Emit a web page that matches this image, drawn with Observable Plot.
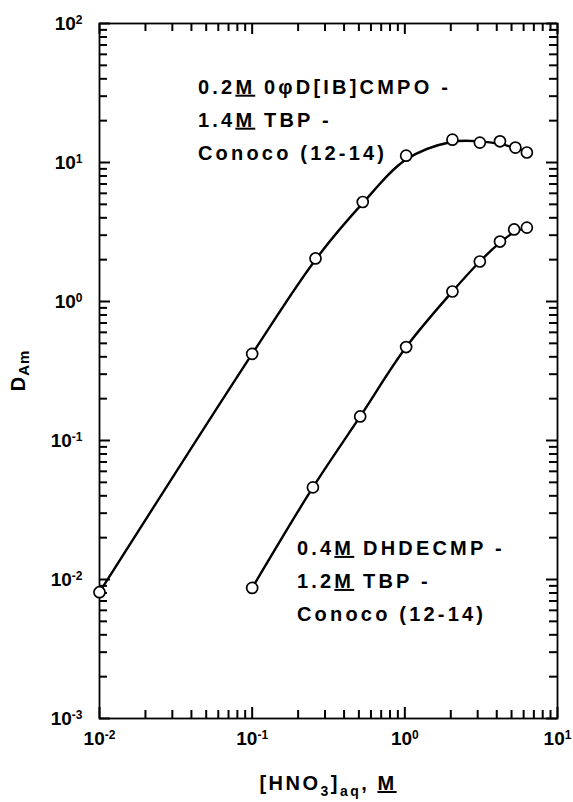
<!DOCTYPE html>
<html><head><meta charset="utf-8">
<script src="https://cdn.jsdelivr.net/npm/d3@7"></script>
<script src="https://cdn.jsdelivr.net/npm/@observablehq/plot@0.6"></script>
<style>
  html,body{margin:0;padding:0;background:#fff}
  svg{display:block}
  text{white-space:pre}
</style>
</head><body><div id="chart"></div>
<script>
// ---------- data ----------
// Upper series: 0.2M OφD[IB]CMPO - 1.4M TBP - Conoco (12-14)
const hno3Upper = [0.01, 0.1, 0.26, 0.53, 1.02, 2.05, 3.1, 4.2, 5.3, 6.3];
const dAmUpper  = [0.0081, 0.42, 2.04, 5.2, 11.2, 14.6, 13.9, 14.2, 12.8, 11.8];
// Lower series: 0.4M DHDECMP - 1.2M TBP - Conoco (12-14)
const hno3Lower = [0.1, 0.25, 0.51, 1.02, 2.05, 3.1, 4.2, 5.2, 6.3];
const dAmLower  = [0.0087, 0.046, 0.149, 0.47, 1.18, 1.94, 2.7, 3.3, 3.4];
// Smooth curves drawn through the points
const fitUpperX = [0.01, 0.1, 0.26, 0.53, 1.02, 2.05, 3.1, 4.2, 5.3, 6.3];
const fitUpperY = [0.0081, 0.42, 2.0, 5.1, 10.5, 14.1, 14.2, 13.6, 12.7, 11.9];
const fitLowerX = [0.1, 0.25, 0.51, 1.02, 2.05, 3.1, 4.2, 5.2, 6.3];
const fitLowerY = [0.0087, 0.046, 0.149, 0.47, 1.18, 1.94, 2.65, 3.15, 3.4];
// Axis decades (tick labels)
const xDecades = [0.01, 0.1, 1, 10];
const yDecades = [0.001, 0.01, 0.1, 1, 10, 100];
// Text
const upperLabel = [[["0.2",0],["M",1],[" 0\u03C6D[IB]CMPO -",0]], [["1.4",0],["M",1],[" TBP -",0]], [["Conoco (12-14)",0]]];
const lowerLabel = [[["0.4",0],["M",1],[" DHDECMP -",0]], [["1.2",0],["M",1],[" TBP -",0]], [["Conoco (12-14)",0]]];

// ---------- layout ----------
const W = 573, H = 802;
const mL = 99, mR = 16, mT = 23, mB = 84;
const innerW = W - mL - mR, innerH = H - mT - mB;
const FONT = "'Liberation Sans', Arial, Helvetica, sans-serif";

const minorX = xDecades.slice(0, -1).flatMap(d => d3.range(2, 10).map(k => d * k));
const minorY = yDecades.slice(0, -1).flatMap(d => d3.range(2, 10).map(k => d * k));
const upper = hno3Upper.map((x, i) => ({x, y: dAmUpper[i]}));
const lower = hno3Lower.map((x, i) => ({x, y: dAmLower[i]}));
const fitUpper = fitUpperX.map((x, i) => ({x, y: fitUpperY[i]}));
const fitLower = fitLowerX.map((x, i) => ({x, y: fitLowerY[i]}));
const fmt = d => "10^" + Math.round(Math.log10(d));

// inward ticks on all four sides of the frame
const tickMarks = (xt, yt, len) => [
  Plot.tickX(xt, {x: d => d, insetTop: innerH - len, stroke: "black", strokeWidth: 2}),
  Plot.tickX(xt, {x: d => d, insetBottom: innerH - len, stroke: "black", strokeWidth: 2}),
  Plot.tickY(yt, {y: d => d, insetRight: innerW - len, stroke: "black", strokeWidth: 2}),
  Plot.tickY(yt, {y: d => d, insetLeft: innerW - len, stroke: "black", strokeWidth: 2})
];
const txt = {fontFamily: FONT, fontWeight: "bold", fontSize: 19, fill: "black"};

const plot = Plot.plot({
  width: W, height: H,
  marginLeft: mL, marginRight: mR, marginTop: mT, marginBottom: mB,
  x: {type: "log", domain: [0.01, 10], label: null},
  y: {type: "log", domain: [0.001, 100], label: null},
  marks: [
    Plot.frame({stroke: "black", strokeWidth: 1.8}),
    ...tickMarks(minorX, minorY, 8),
    ...tickMarks(xDecades, yDecades, 11),
    Plot.axisX({anchor: "bottom", ticks: xDecades, tickSize: 0, tickPadding: 13, tickFormat: fmt, label: null, ...txt}),
    Plot.axisY({anchor: "left", ticks: yDecades, tickSize: 0, tickPadding: 17, tickFormat: fmt, label: null, ...txt}),
    Plot.line(fitUpper, {x: "x", y: "y", curve: "catmull-rom", stroke: "black", strokeWidth: 2.4}),
    Plot.line(fitLower, {x: "x", y: "y", curve: "catmull-rom", stroke: "black", strokeWidth: 2.4}),
    Plot.dot(upper, {x: "x", y: "y", r: 5.5, fill: "white", stroke: "black", strokeWidth: 1.7}),
    Plot.dot(lower, {x: "x", y: "y", r: 5.5, fill: "white", stroke: "black", strokeWidth: 1.7})
  ]
});
document.getElementById("chart").append(plot);

const svg = d3.select(plot);
// superscript exponents on tick labels
svg.selectAll("text").each(function () {
  const m = /^10\^(-?\d+)$/.exec(this.textContent);
  if (!m) return;
  const el = d3.select(this);
  el.attr("font-family", FONT).attr("font-weight", "bold").attr("font-size", 19);
  el.text("10");
  el.append("tspan").attr("dy", "-0.5em").attr("font-size", "12px").text(m[1]);
});

const sx = plot.scale("x"), sy = plot.scale("y");
function addLabel(lines, x0, y0, lh) {
  const g = svg.append("g").attr("font-family", FONT).attr("font-weight", "bold")
    .attr("font-size", 20).attr("letter-spacing", "3.2px").attr("fill", "black")
    .attr("text-anchor", "start");
  lines.forEach((parts, i) => {
    const t = g.append("text").attr("x", x0).attr("y", y0 + i * lh);
    parts.forEach(([s, u]) => {
      const sp = t.append("tspan").text(s);
      if (u) sp.attr("text-decoration", "underline");
    });
  });
}
addLabel(upperLabel, sx.apply(0.0445), sy.apply(31), 33);
addLabel(lowerLabel, sx.apply(0.198), sy.apply(0.0149), 33);

// y-axis title D_Am
const yt = svg.append("text")
  .attr("transform", `translate(25,${(mT + H - mB) / 2}) rotate(-90)`)
  .attr("text-anchor", "middle").attr("font-family", FONT).attr("font-weight", "bold")
  .attr("font-size", 20).attr("letter-spacing", "1px").attr("fill", "black");
yt.append("tspan").text("D");
yt.append("tspan").attr("font-size", 15).attr("dy", 4).text("Am");

// x-axis title [HNO3]aq, M
const xt = svg.append("text")
  .attr("x", (mL + W - mR) / 2).attr("y", H - 12)
  .attr("text-anchor", "middle").attr("font-family", FONT).attr("font-weight", "bold")
  .attr("font-size", 20).attr("letter-spacing", "2.5px").attr("fill", "black");
xt.append("tspan").text("[HNO");
xt.append("tspan").attr("font-size", 14).attr("dy", 6).text("3");
xt.append("tspan").attr("dy", -6).text("]");
xt.append("tspan").attr("font-size", 14).attr("dy", 6).text("aq");
xt.append("tspan").attr("dy", -6).text(", ");
xt.append("tspan").attr("text-decoration", "underline").text("M");
</script>
</body></html>
